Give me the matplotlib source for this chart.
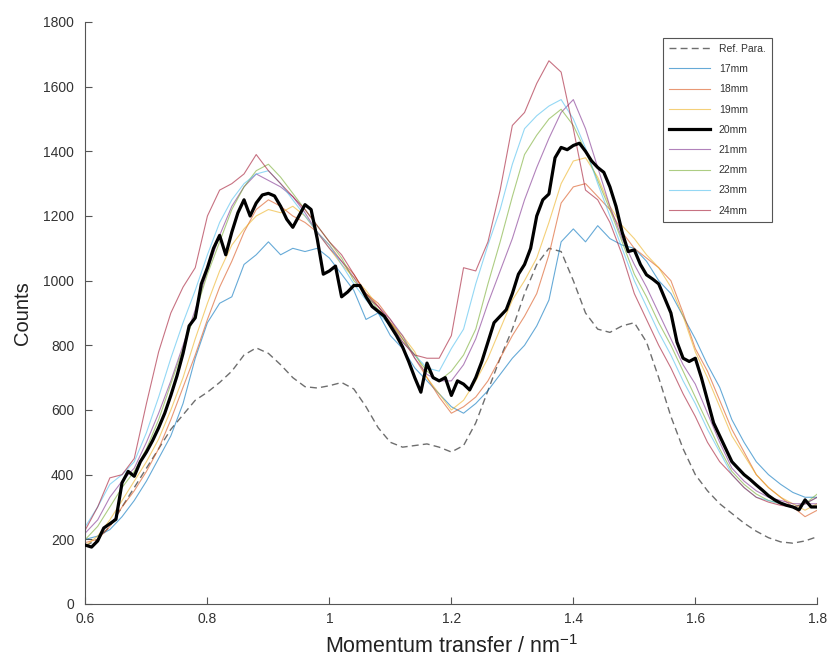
import numpy as np
import matplotlib
matplotlib.use("Agg")
import matplotlib.pyplot as plt
from matplotlib.ticker import FuncFormatter

plt.rcParams['font.family'] = ['Liberation Sans', 'DejaVu Sans']
plt.rcParams['mathtext.default'] = 'regular'

# momentum transfer grid (nm^-1), 0.02 step for the colored scans
q = [0.60, 0.62, 0.64, 0.66, 0.68, 0.70, 0.72, 0.74, 0.76, 0.78,
     0.80, 0.82, 0.84, 0.86, 0.88, 0.90, 0.92, 0.94, 0.96, 0.98,
     1.00, 1.02, 1.04, 1.06, 1.08, 1.10, 1.12, 1.14, 1.16, 1.18,
     1.20, 1.22, 1.24, 1.26, 1.28, 1.30, 1.32, 1.34, 1.36, 1.38,
     1.40, 1.42, 1.44, 1.46, 1.48, 1.50, 1.52, 1.54, 1.56, 1.58,
     1.60, 1.62, 1.64, 1.66, 1.68, 1.70, 1.72, 1.74, 1.76, 1.78,
     1.80]

ref_para = [180, 200, 240, 300, 360, 420, 480, 540, 585, 630,
            655, 685, 720, 770, 792, 775, 740, 700, 672, 668,
            675, 685, 665, 610, 545, 500, 485, 490, 495, 485,
            470, 490, 560, 660, 760, 850, 960, 1050, 1100, 1090,
            1000, 900, 850, 840, 860, 870, 810, 700, 580, 480,
            400, 350, 310, 280, 250, 225, 205, 192, 188, 195,
            208]

mm17 = [200, 210, 230, 270, 320, 380, 450, 520, 620, 760,
        870, 930, 950, 1050, 1080, 1120, 1080, 1100, 1090, 1100,
        1070, 1020, 970, 880, 900, 830, 790, 730, 690, 650,
        610, 590, 620, 660, 710, 760, 800, 860, 940, 1120,
        1160, 1120, 1170, 1130, 1110, 1100, 1060, 1000, 960, 890,
        820, 740, 670, 570, 500, 440, 400, 370, 345, 330,
        330]

mm18 = [190, 200, 240, 300, 350, 410, 480, 570, 670, 770,
        880, 980, 1060, 1150, 1220, 1250, 1230, 1200, 1180, 1150,
        1110, 1060, 1020, 960, 930, 880, 820, 760, 700, 640,
        590, 610, 640, 690, 760, 830, 890, 960, 1080, 1240,
        1290, 1300, 1260, 1220, 1150, 1100, 1070, 1040, 1000, 900,
        790, 720, 630, 540, 470, 400, 360, 330, 300, 270,
        290]

mm19 = [180, 210, 260, 320, 380, 440, 510, 600, 700, 820,
        930, 1030, 1110, 1160, 1200, 1220, 1210, 1230, 1200, 1150,
        1100, 1050, 1010, 970, 920, 870, 830, 780, 700, 650,
        600, 630, 690, 760, 850, 940, 1000, 1070, 1180, 1300,
        1370, 1380, 1320, 1230, 1170, 1130, 1080, 1040, 980, 890,
        780, 700, 610, 520, 460, 400, 360, 330, 310, 290,
        310]

mm21 = [220, 260, 330, 380, 420, 500, 590, 690, 800, 910,
        1030, 1140, 1230, 1290, 1330, 1310, 1290, 1260, 1210, 1150,
        1100, 1060, 1010, 950, 920, 880, 830, 760, 710, 690,
        690, 740, 820, 930, 1030, 1130, 1250, 1350, 1440, 1520,
        1560, 1470, 1350, 1230, 1130, 1050, 980, 900, 820, 740,
        680, 590, 500, 420, 380, 350, 330, 320, 310, 310,
        310]

mm22 = [200, 240, 300, 360, 410, 480, 570, 680, 790, 900,
        1020, 1120, 1220, 1290, 1340, 1360, 1320, 1270, 1220, 1170,
        1120, 1070, 1000, 960, 910, 870, 820, 770, 720, 690,
        720, 770, 850, 990, 1120, 1260, 1390, 1450, 1500, 1530,
        1480, 1400, 1310, 1220, 1120, 1020, 950, 870, 800, 720,
        640, 560, 480, 410, 370, 340, 320, 310, 300, 310,
        340]

mm23 = [240, 300, 370, 400, 440, 530, 640, 760, 870, 970,
        1080, 1180, 1250, 1300, 1330, 1340, 1300, 1250, 1200, 1150,
        1110, 1050, 990, 940, 900, 860, 810, 770, 730, 720,
        790, 850, 990, 1110, 1220, 1360, 1470, 1510, 1540, 1560,
        1500, 1410, 1300, 1200, 1100, 1000, 920, 840, 770, 690,
        620, 540, 470, 400, 360, 330, 320, 310, 300, 310,
        330]

mm24 = [230, 300, 390, 400, 450, 620, 780, 900, 980, 1040,
        1200, 1280, 1300, 1330, 1390, 1340, 1300, 1260, 1220, 1170,
        1120, 1080, 1020, 960, 920, 870, 810, 770, 760, 760,
        830, 1040, 1030, 1120, 1280, 1480, 1520, 1610, 1680, 1645,
        1470, 1280, 1250, 1180, 1080, 960, 880, 800, 730, 650,
        580, 500, 440, 400, 360, 330, 315, 305, 300, 310,
        330]

# 20mm scan read at finer 0.01 step
q20 = [0.60, 0.61, 0.62, 0.63, 0.64, 0.65, 0.66, 0.67, 0.68, 0.69,
       0.70, 0.71, 0.72, 0.73, 0.74, 0.75, 0.76, 0.77, 0.78, 0.79,
       0.80, 0.81, 0.82, 0.83, 0.84, 0.85, 0.86, 0.87, 0.88, 0.89,
       0.90, 0.91, 0.92, 0.93, 0.94, 0.95, 0.96, 0.97, 0.98, 0.99,
       1.00, 1.01, 1.02, 1.03, 1.04, 1.05, 1.06, 1.07, 1.08, 1.09,
       1.10, 1.11, 1.12, 1.13, 1.14, 1.15, 1.16, 1.17, 1.18, 1.19,
       1.20, 1.21, 1.22, 1.23, 1.24, 1.25, 1.26, 1.27, 1.28, 1.29,
       1.30, 1.31, 1.32, 1.33, 1.34, 1.35, 1.36, 1.37, 1.38, 1.39,
       1.40, 1.41, 1.42, 1.43, 1.44, 1.45, 1.46, 1.47, 1.48, 1.49,
       1.50, 1.51, 1.52, 1.53, 1.54, 1.55, 1.56, 1.57, 1.58, 1.59,
       1.60, 1.61, 1.62, 1.63, 1.64, 1.65, 1.66, 1.67, 1.68, 1.69,
       1.70, 1.71, 1.72, 1.73, 1.74, 1.75, 1.76, 1.77, 1.78, 1.79,
       1.80]

mm20 = [182, 176, 195, 235, 248, 262, 375, 410, 395, 440,
        470, 505, 545, 590, 645, 705, 775, 860, 885, 990,
        1040, 1100, 1140, 1080, 1150, 1210, 1250, 1200, 1240, 1265,
        1270, 1262, 1230, 1190, 1165, 1200, 1235, 1220, 1130, 1020,
        1030, 1045, 950, 965, 985, 985, 950, 920, 905, 890,
        860, 830, 795, 750, 700, 655, 745, 700, 690, 700,
        645, 690, 680, 662, 700, 750, 810, 870, 890, 910,
        960, 1020, 1050, 1100, 1200, 1250, 1268, 1380, 1412, 1405,
        1418, 1425, 1400, 1370, 1350, 1335, 1290, 1230, 1150, 1090,
        1095, 1050, 1018, 1005, 990, 945, 900, 810, 760, 750,
        760, 700, 630, 560, 520, 480, 440, 420, 400, 385,
        368, 352, 335, 322, 312, 305, 300, 291, 322, 300,
        300]

labels = ["17mm", "18mm", "19mm", "20mm", "21mm", "22mm", "23mm", "24mm"]
colors = ["#0072BD", "#D95319", "#EDB120", "#000000",
          "#7E2F8E", "#77AC30", "#4DBEEE", "#A2142F"]

fig = plt.figure(figsize=(8.33, 6.64), dpi=100)
ax = fig.add_axes([0.1026, 0.0904, 0.8785, 0.8765])

ax.plot(q, ref_para, linestyle=(0, (5, 3)), color="#555555", lw=1.0,
        alpha=0.85, label="Ref. Para.")
series = [mm17, mm18, mm19, None, mm21, mm22, mm23, mm24]
for lab, col, ys in zip(labels, colors, series):
    if lab == "20mm":
        ax.plot(q20, mm20, color="black", lw=2.3, label=lab, zorder=5)
    else:
        ax.plot(q, ys, color=col, lw=0.8, alpha=0.6, label=lab)

ax.set_xlim(0.6, 1.8)
ax.set_ylim(0, 1800)
ax.set_xticks(np.arange(0.6, 1.81, 0.2))
ax.set_yticks(np.arange(0, 1801, 200))
ax.xaxis.set_major_formatter(FuncFormatter(lambda v, p: "%g" % round(v, 2)))

for s in ["top", "right"]:
    ax.spines[s].set_visible(False)
for s in ["left", "bottom"]:
    ax.spines[s].set_color("#555555")
    ax.spines[s].set_linewidth(0.8)
ax.tick_params(direction="in", length=5, width=0.8, color="#555555",
               labelcolor="#333333", labelsize=10)
ax.tick_params(axis="y", pad=8)
ax.tick_params(axis="x", pad=6)

ax.set_xlabel("Momentum transfer / nm$^{-1}$", fontsize=15.5, color="#222222", labelpad=6)
ax.set_ylabel("Counts", fontsize=14.5, color="#222222", labelpad=8)

leg = ax.legend(loc="upper right", bbox_to_anchor=(0.945, 0.982), fontsize=7.5,
                handlelength=4.0, labelspacing=0.98, borderpad=0.6,
                fancybox=False, framealpha=1, edgecolor="#555555")
leg.get_frame().set_linewidth(0.8)
for t in leg.get_texts():
    t.set_color("#333333")

fig.savefig("out.png", dpi=100)
